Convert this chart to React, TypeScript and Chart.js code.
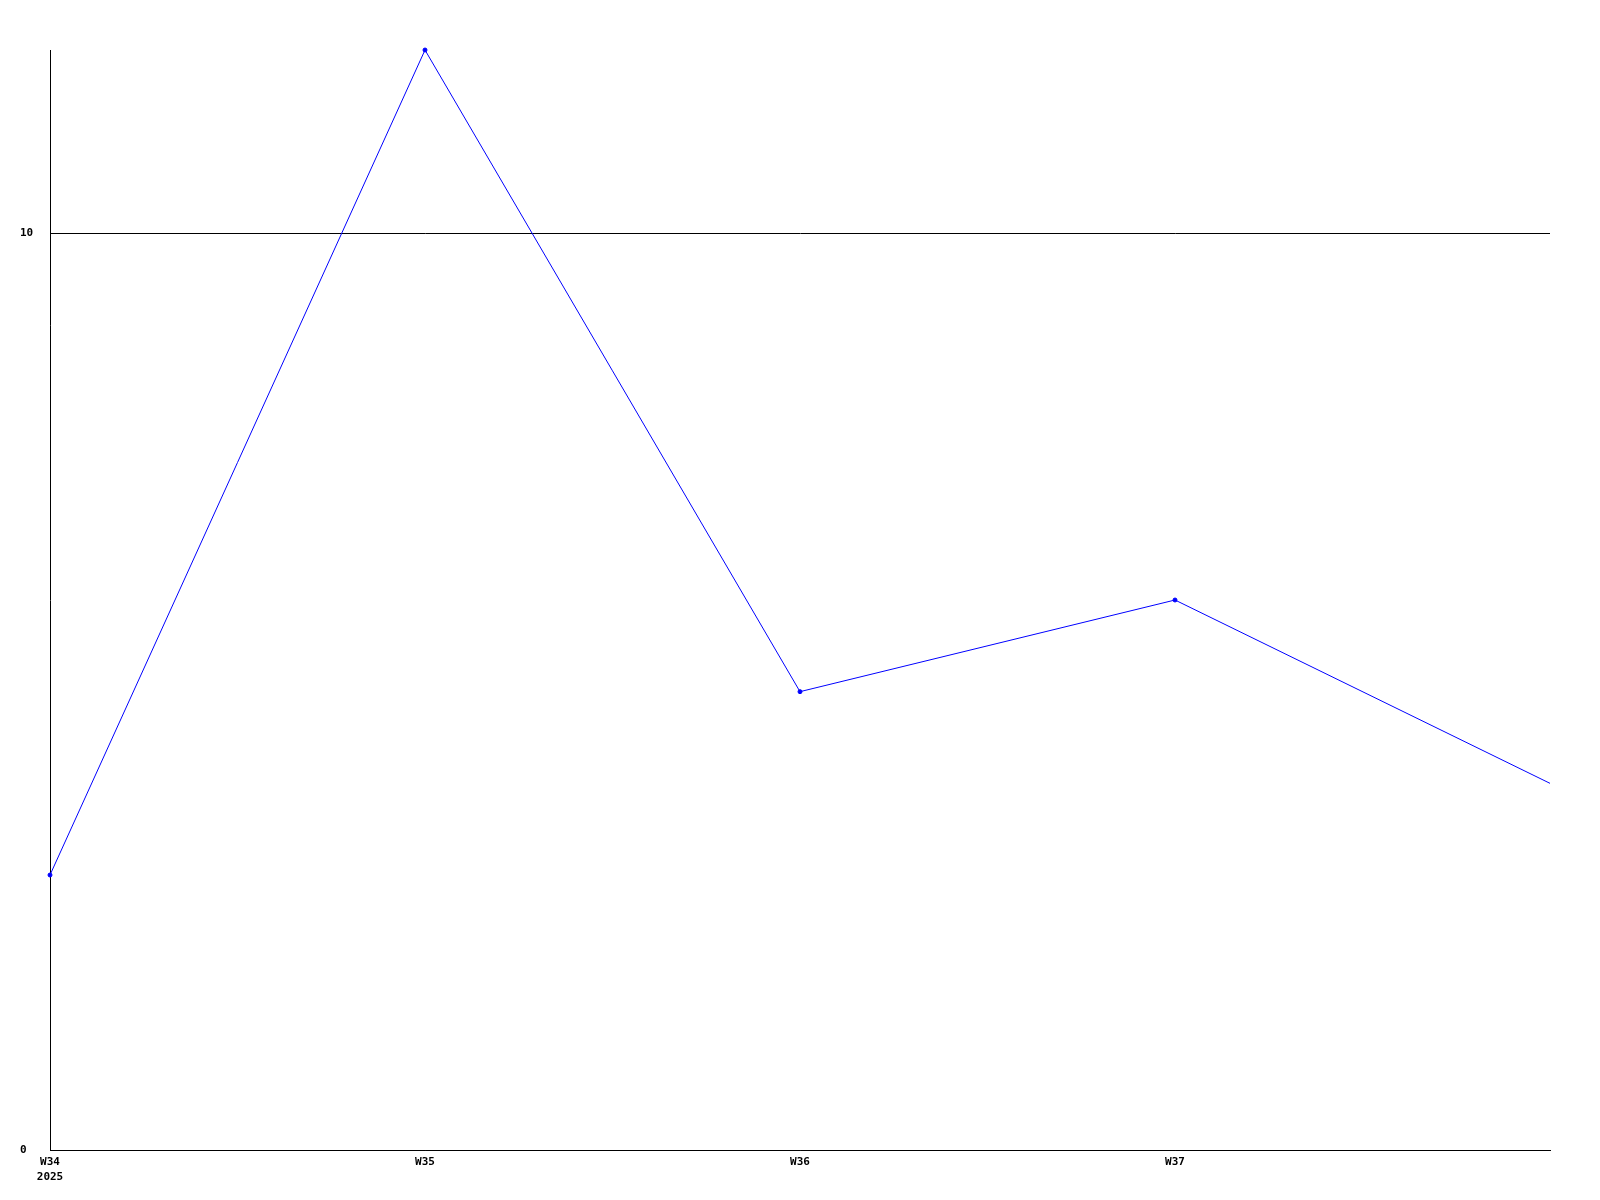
import React, { useEffect, useRef } from "react";
import { Chart, registerables } from "chart.js";

Chart.register(...registerables);

const categories = ["W34", "W35", "W36", "W37", "W38"];
const xTickLabels: (string | string[])[] = [["W34", "2025"], "W35", "W36", "W37", ""];
const seriesValues = [3, 12, 5, 6, 4];
const yTicks = [0, 10];
const markerRadius = [2, 2, 2, 2, 0];

const FONT = { family: "'DejaVu Sans Mono', monospace", size: 11, weight: "bold" as const, lineHeight: "15px" };

export default function App() {
  const ref = useRef<HTMLCanvasElement | null>(null);
  useEffect(() => {
    if (!ref.current) return;
    const chart = new Chart(ref.current, {
      type: "line",
      data: {
        labels: categories,
        datasets: [
          {
            data: seriesValues,
            borderColor: "#0000ff",
            backgroundColor: "#0000ff",
            borderWidth: 1,
            pointRadius: markerRadius,
            pointBorderWidth: 1,
            pointStyle: "circle",
            tension: 0,
            fill: false,
            clip: false,
          } as any,
        ],
      },
      options: {
        animation: false,
        responsive: false,
        maintainAspectRatio: false,
        layout: { padding: { left: 20, right: 50, top: 50, bottom: 0 } },
        plugins: { legend: { display: false }, tooltip: { enabled: false } },
        scales: {
          x: {
            type: "category",
            offset: false,
            grid: { display: false, drawTicks: false },
            border: { display: true, color: "#000", width: 1 },
            ticks: {
              color: "#000",
              font: FONT,
              padding: 5,
              maxRotation: 0,
              autoSkip: false,
              callback: (_v: any, i: number) => xTickLabels[i],
            },
            afterFit: (axis: any) => {
              axis.height = 50;
            },
          },
          y: {
            type: "linear",
            min: 0,
            max: 12,
            grid: { display: true, color: "#000", lineWidth: 1, drawTicks: false },
            border: { display: true, color: "#000", width: 1 },
            ticks: {
              color: "#000",
              font: FONT,
              padding: 4,
              crossAlign: "far",
            },
            afterBuildTicks: (axis: any) => {
              axis.ticks = yTicks.map((v) => ({ value: v }));
            },
            afterFit: (axis: any) => {
              axis.width = 30;
            },
          },
        },
      },
    });
    return () => chart.destroy();
  }, []);
  return (
    <div style={{ position: "absolute", left: 0, top: 0, width: 1600, height: 1200, background: "#fff" }}>
      <canvas ref={ref} width={1600} height={1200} style={{ width: 1600, height: 1200, display: "block" }} />
    </div>
  );
}
